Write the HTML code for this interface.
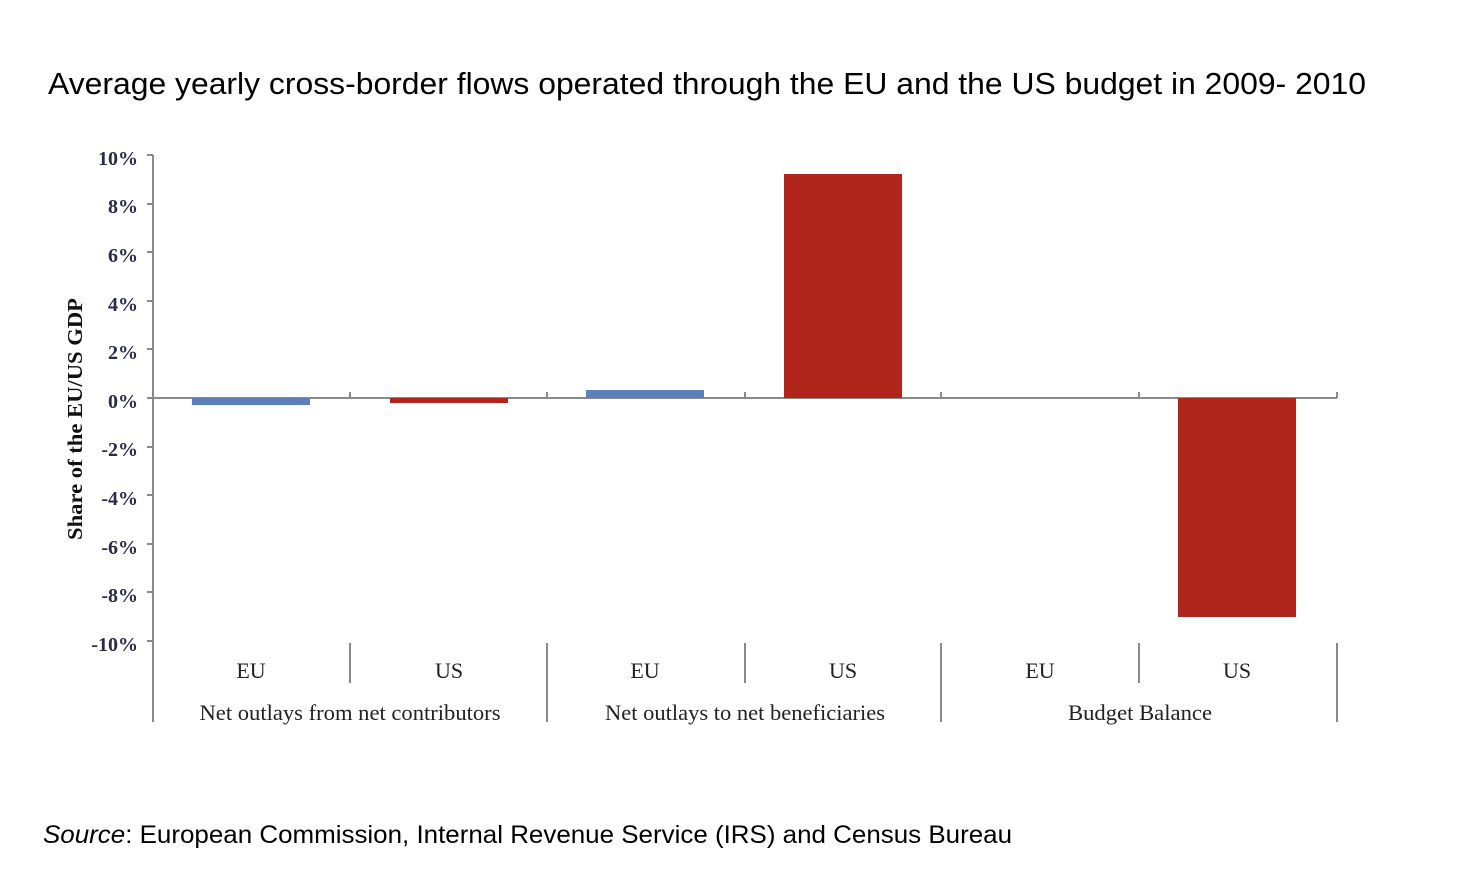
<!DOCTYPE html>
<html><head><style>
body{margin:0;background:#fff;width:1458px;height:876px;overflow:hidden}
</style></head><body>
<svg width="1458" height="876" xmlns="http://www.w3.org/2000/svg">
<text x="48" y="94" font-family="Liberation Sans, sans-serif" font-size="31" fill="#000" textLength="1318" lengthAdjust="spacingAndGlyphs">Average yearly cross-border flows operated through the EU and the US budget in 2009- 2010</text>
<g font-family="Liberation Serif, serif" font-size="20" fill="#2a2a4a" text-anchor="end" font-weight="bold">
<text x="138" y="165">10%</text><text x="138" y="213">8%</text><text x="138" y="262">6%</text><text x="138" y="311">4%</text><text x="138" y="359">2%</text><text x="138" y="408">0%</text><text x="138" y="456">-2%</text><text x="138" y="505">-4%</text><text x="138" y="554">-6%</text><text x="138" y="602">-8%</text><text x="138" y="651">-10%</text>
</g>
<text transform="translate(82,419) rotate(-90)" font-family="Liberation Serif, serif" font-size="21" font-weight="bold" text-anchor="middle" fill="#111" textLength="242" lengthAdjust="spacingAndGlyphs">Share of the EU/US GDP</text>
<g stroke="#8a8a8a" stroke-width="2" fill="none">
<line x1="153" y1="155" x2="153" y2="722"/>
<line x1="147" y1="155" x2="153" y2="155"/><line x1="147" y1="204" x2="153" y2="204"/><line x1="147" y1="252" x2="153" y2="252"/><line x1="147" y1="301" x2="153" y2="301"/><line x1="147" y1="349" x2="153" y2="349"/><line x1="147" y1="398" x2="153" y2="398"/><line x1="147" y1="447" x2="153" y2="447"/><line x1="147" y1="495" x2="153" y2="495"/><line x1="147" y1="544" x2="153" y2="544"/><line x1="147" y1="592" x2="153" y2="592"/><line x1="147" y1="641" x2="153" y2="641"/>
<line x1="153" y1="398" x2="1337" y2="398"/>
<line x1="350" y1="392" x2="350" y2="398"/><line x1="547" y1="392" x2="547" y2="398"/><line x1="745" y1="392" x2="745" y2="398"/><line x1="941" y1="392" x2="941" y2="398"/><line x1="1139" y1="392" x2="1139" y2="398"/><line x1="1337" y1="392" x2="1337" y2="398"/>
<line x1="350" y1="643" x2="350" y2="683"/><line x1="745" y1="643" x2="745" y2="683"/><line x1="1139" y1="643" x2="1139" y2="683"/>
<line x1="547" y1="643" x2="547" y2="722"/><line x1="941" y1="643" x2="941" y2="722"/><line x1="1337" y1="643" x2="1337" y2="722"/>
</g>
<rect x="192" y="398" width="118" height="7" fill="#5b80bb"/>
<rect x="390" y="398" width="118" height="5" fill="#b0261c"/>
<rect x="586" y="390" width="118" height="8" fill="#5b80bb"/>
<rect x="784" y="174" width="118" height="224" fill="#b0261c"/>
<rect x="1178" y="398" width="118" height="219" fill="#b0261c"/>
<g font-family="Liberation Serif, serif" font-size="22" fill="#222" text-anchor="middle">
<text x="251" y="678">EU</text><text x="449" y="678">US</text><text x="645" y="678">EU</text><text x="843" y="678">US</text><text x="1040" y="678">EU</text><text x="1237" y="678">US</text>
<text x="350" y="720" textLength="301" lengthAdjust="spacingAndGlyphs">Net outlays from net contributors</text><text x="745" y="720" textLength="280" lengthAdjust="spacingAndGlyphs">Net outlays to net beneficiaries</text><text x="1140" y="720" textLength="144" lengthAdjust="spacingAndGlyphs">Budget Balance</text>
</g>
<text x="43" y="843" font-family="Liberation Sans, sans-serif" font-size="25" fill="#000" textLength="969" lengthAdjust="spacingAndGlyphs"><tspan font-style="italic">Source</tspan>: European Commission, Internal Revenue Service (IRS) and Census Bureau</text>
</svg>
</body></html>
